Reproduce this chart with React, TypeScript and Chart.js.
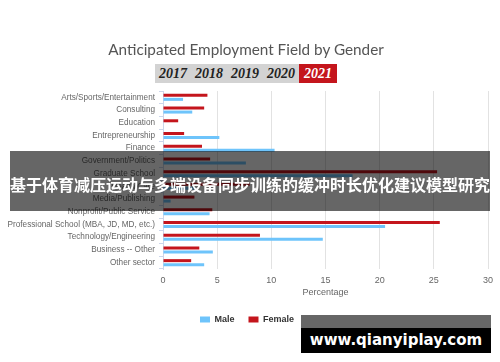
import React, { useEffect, useRef } from "react";
import { Chart, registerables } from "chart.js";

Chart.register(...registerables);

const categories = [
  "Arts/Sports/Entertainment",
  "Consulting",
  "Education",
  "Entrepreneurship",
  "Finance",
  "Government/Politics",
  "Graduate School",
  "Health Care",
  "Media/Publishing",
  "Nonprofit/Public Service",
  "Professional School (MBA, JD, MD, etc.)",
  "Technology/Engineering",
  "Business -- Other",
  "Other sector",
];

const maleValues = [1.85, 2.7, 0, 5.2, 10.3, 7.65, 17.5, 3.0, 0.7, 4.3, 20.5, 14.75, 4.6, 3.8];
const femaleValues = [4.1, 3.8, 1.4, 1.95, 3.6, 4.35, 25.3, 8.0, 2.9, 4.55, 25.55, 8.95, 3.35, 2.6];

const years = ["2017", "2018", "2019", "2020", "2021"];
const activeYear = "2021";

const chartTitle = "Anticipated Employment Field by Gender";
const xAxisTitle = "Percentage";
const bannerText = "基于体育减压运动与多端设备同步训练的缓冲时长优化建议模型研究";
const watermarkText = "www.qianyiplay.com";

const MALE_COLOR = "#6ec4fb";
const FEMALE_COLOR = "#c4151c";
const AXIS_FONT = "'Liberation Sans', Arial, sans-serif";

export default function App() {
  const canvasRef = useRef<HTMLCanvasElement | null>(null);

  useEffect(() => {
    if (!canvasRef.current) return;
    const chart = new Chart(canvasRef.current, {
      type: "bar",
      data: {
        labels: categories,
        datasets: [
          {
            label: "Female",
            data: femaleValues,
            backgroundColor: FEMALE_COLOR,
            categoryPercentage: 0.63,
            barPercentage: 0.75,
          },
          {
            label: "Male",
            data: maleValues,
            backgroundColor: MALE_COLOR,
            categoryPercentage: 0.63,
            barPercentage: 0.75,
          },
        ],
      },
      options: {
        animation: false,
        responsive: false,
        indexAxis: "y",
        layout: { padding: { top: 91, right: 12, bottom: 28, left: 6 } },
        plugins: {
          legend: {
            position: "bottom",
            reverse: true,
            labels: {
              boxWidth: 10,
              boxHeight: 6,
              padding: 14,
              color: "#333",
              font: { size: 9, weight: "bold", family: AXIS_FONT },
            },
          },
          title: { display: false },
          tooltip: { enabled: false },
        },
        scales: {
          x: {
            min: 0,
            max: 30,
            ticks: {
              stepSize: 5,
              padding: 6,
              color: "#666",
              font: { size: 9, family: AXIS_FONT },
            },
            grid: { color: "#e2e2e2", drawTicks: false },
            border: { display: false },
            title: {
              display: true,
              text: xAxisTitle,
              color: "#666",
              font: { size: 9, family: AXIS_FONT },
              padding: { top: 0, bottom: 3 },
            },
            afterFit: (s: any) => {
              s.height = 32;
            },
          },
          y: {
            ticks: {
              color: "#666",
              padding: 4,
              autoSkip: false,
              font: { size: 8.2, family: AXIS_FONT },
            },
            grid: { drawOnChartArea: false, tickLength: 4, color: "#ccd6eb" },
            border: { color: "#ccd6eb" },
            afterFit: (s: any) => {
              s.width = 157;
            },
          },
        },
      },
    } as any);
    return () => chart.destroy();
  }, []);

  return (
    <div
      style={{
        position: "fixed",
        left: 0,
        top: 0,
        width: 500,
        height: 362,
        background: "#fff",
        overflow: "hidden",
      }}
    >
      <canvas ref={canvasRef} width={500} height={362} style={{ display: "block", position: "absolute", left: 0, top: 0 }} />
      <div
        style={{
          position: "absolute",
          left: 0,
          top: 40,
          width: 492,
          textAlign: "center",
          fontFamily: "Lato, 'Open Sans', sans-serif",
          fontSize: 15.3,
          color: "#555",
          whiteSpace: "nowrap",
        }}
      >
        {chartTitle}
      </div>
      <div
        style={{
          position: "absolute",
          left: 155,
          top: 64,
          height: 19,
          width: 182,
          background: "#d3d3d3",
          display: "flex",
          fontFamily: "'Liberation Serif', 'DejaVu Serif', serif",
          fontStyle: "italic",
          fontWeight: "bold",
          fontSize: 14,
          lineHeight: "19px",
        }}
      >
        {years.map((y) => (
          <span
            key={y}
            style={{
              width: y === activeYear ? 38 : 36,
              textAlign: "center",
              color: y === activeYear ? "#fff" : "#222",
              background: y === activeYear ? "#c4151c" : "transparent",
            }}
          >
            {y}
          </span>
        ))}
      </div>
      <div
        style={{
          position: "absolute",
          left: 10,
          top: 151,
          width: 480,
          height: 60,
          background: "rgba(0,0,0,0.6)",
        }}
      >
        <div
          style={{
            position: "absolute",
            left: -20,
            right: -20,
            top: 22,
            textAlign: "center",
            color: "#fff",
            fontWeight: "bold",
            fontSize: 16,
            lineHeight: "22px",
            fontFamily: "'Noto Sans CJK SC', sans-serif",
            whiteSpace: "nowrap",
          }}
        >
          {bannerText}
        </div>
      </div>
      <div style={{ position: "absolute", left: 301, top: 315, width: 190, height: 38 }}>
        <div style={{ height: 13, background: "#666" }} />
        <div
          style={{
            height: 25,
            background: "#000",
            color: "#fff",
            fontWeight: "bold",
            fontSize: 15,
            lineHeight: "25px",
            textAlign: "center",
            fontFamily: "'DejaVu Sans', sans-serif",
            whiteSpace: "nowrap",
          }}
        >
          {watermarkText}
        </div>
      </div>
    </div>
  );
}
